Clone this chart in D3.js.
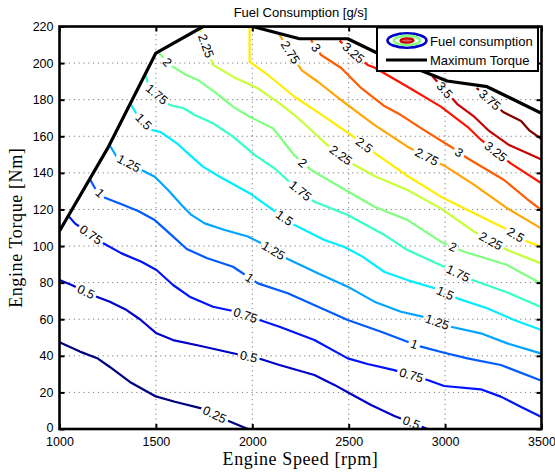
<!DOCTYPE html>
<html><head><meta charset="utf-8">
<script src="https://cdn.jsdelivr.net/npm/d3@7"></script>
<style>
html,body{margin:0;padding:0;background:#fff;}
svg{display:block;}
</style></head>
<body>
<svg id="chart" width="555" height="474"></svg>
<script>
// ---------- data ----------
const titleText = "Fuel Consumption [g/s]";
const xLabelText = "Engine Speed [rpm]";
const yLabelText = "Engine Torque [Nm]";
const legendLabels = ["Fuel consumption", "Maximum Torque"];
const xTicks = [1000, 1500, 2000, 2500, 3000, 3500];
const yTicks = [0, 20, 40, 60, 80, 100, 120, 140, 160, 180, 200, 220];
const levels = [0.25, 0.5, 0.75, 1, 1.25, 1.5, 1.75, 2, 2.25, 2.5, 2.75, 3, 3.25, 3.5, 3.75];

const maxTorqueRpm = [1000, 1250, 1500, 1745, 2000, 2245, 2495, 2650, 3011, 3218, 3500];
const maxTorqueNm  = [108.2, 153.5, 205.5, 220, 220, 213.3, 213.3, 205.4, 190.2, 187.1, 172.6];

const c025_rpm = [1000,1106,1199,1261,1365,1495,1598,1736,1874,1977];
const c025_nm  = [47.4,42.3,38.5,33.9,25.7,18.0,14.9,11.3,4.5,0];
const c025_lab = [1805];

const c050_rpm = [1000,1063,1193,1261,1348,1417,1503,1589,1727,1900,2047,2141,2322,2426,2504,2616,2737,2909];
const c050_nm  = [81.4,78.7,72.3,69.6,65.0,60.0,52.3,48.6,45.5,41.4,38.1,35.0,29.5,24.1,19.5,13.1,7.1,0];
const c050_lab = [1137,1981,2825];

const c075_rpm = [1046,1080,1227,1322,1425,1503,1589,1675,1796,1900,2038,2141,2322,2495,2598,2736,2909,2995,3185,3289,3392,3500];
const c075_nm  = [116.5,112.4,101.5,96.0,91.4,86.9,78.7,72.3,66.8,64.5,59.6,55.9,48.6,38.6,35.5,32.2,26.8,23.5,21.7,17.7,12.2,6.5];
const c075_lab = [1163,1965,2825];

const c100_rpm = [1158,1184,1236,1322,1408,1494,1581,1660,1763,1900,2029,2184,2495,2668,2805,2875,2995,3116,3289,3500];
const c100_nm  = [136.5,131.6,126.4,122.8,119.2,114.2,106.0,98.4,93.5,88.7,79.6,74.2,59.6,53.2,47.7,45.0,41.7,38.6,35.0,26.4];
const c100_lab = [1210,1986,2840];

const c125_rpm = [1258,1296,1425,1494,1563,1633,1684,1753,1857,1977,2047,2184,2340,2495,2633,2771,2883,3030,3185,3323,3500];
const c125_nm  = [155.5,148.8,141.6,137.9,130.6,122.4,117.0,112.4,108.8,105.2,101.5,92.9,85.1,77.8,69.6,64.1,61.4,55.9,52.3,46.8,41.2];
const c125_lab = [1360,2110,2959];

const c150_rpm = [1370,1400,1479,1525,1613,1675,1744,1831,1986,2115,2219,2374,2478,2566,2686,2804,2946,3063,3218,3358,3500];
const c150_nm  = [177.5,172.2,163.4,162.3,155.8,149.8,143.4,137.9,128.9,119.2,111.5,103.3,99.5,94.6,85.8,81.4,76.9,71.4,66.0,59.6,54.1];
const c150_lab = [1437,2167,3000];

const c175_rpm = [1445,1468,1572,1644,1701,1796,1900,2012,2115,2193,2322,2495,2686,2805,2995,3142,3323,3500];
const c175_nm  = [193.5,186.2,177.1,175.3,171.6,167.1,159.8,149.8,142.5,135.0,124.2,117.0,106.0,97.8,88.7,81.4,74.6,66.6];
const c175_lab = [1505,2250,3068];

const c200_rpm = [1511,1572,1658,1718,1814,1900,1986,2107,2219,2305,2461,2633,2805,2978,3099,3323,3500];
const c200_nm  = [206.2,199.0,193.5,190.8,183.5,176.2,170.7,164.4,149.5,141.6,132.0,121.5,114.2,102.4,96.9,89.6,79.4];
const c200_lab = [1559,2262,3040];

const c225_rpm = [1727,1796,1900,2029,2141,2219,2305,2391,2530,2633,2805,2978,3151,3323,3500];
const c225_nm  = [219.0,199.0,192.6,186.2,178.0,171.6,163.4,155.0,144.3,138.3,130.6,120.6,107.8,97.8,90.4];
const c225_lab = [1760,2460,3237];

const c250_rpm = [1986,1986,2081,2219,2374,2512,2650,2805,2978,3151,3306,3427,3500];
const c250_nm  = [220,200.8,193.5,181.6,170.7,160.7,149.7,138.3,127.0,117.9,109.9,102.4,99.6];
const c250_lab = [2581,3366];

const c275_rpm = [2141,2255,2340,2461,2633,2805,3004,3151,3323,3500];
const c275_nm  = [215.5,196.2,189.8,179.8,166.2,154.3,143.4,133.4,120.6,109.5];
const c275_lab = [2198,2905];

const c300_rpm = [2305,2357,2461,2564,2685,2771,2891,3030,3116,3306,3425,3500];
const c300_nm  = [212.5,204.4,197.3,186.4,176.5,171.6,163.4,154.3,148.0,136.1,125.7,119.7];
const c300_lab = [2331,3073];

const c325_rpm = [2452,2598,2633,2805,2978,3116,3187,3340,3500];
const c325_nm  = [212.3,199.0,197.6,187.1,176.2,165.2,158.0,145.2,134.3];
const c325_lab = [2525,3263];

const c350_rpm = [2933,3063,3151,3228,3332,3500];
const c350_nm  = [193.0,177.6,170.7,162.9,155.2,147.3];
const c350_lab = [2998];

const c375_rpm = [3164,3301,3394,3435,3500];
const c375_nm  = [186.4,173.3,168.3,163.4,158.5];
const c375_lab = [3232];

const contourRpm = [c025_rpm,c050_rpm,c075_rpm,c100_rpm,c125_rpm,c150_rpm,c175_rpm,c200_rpm,c225_rpm,c250_rpm,c275_rpm,c300_rpm,c325_rpm,c350_rpm,c375_rpm];
const contourNm  = [c025_nm,c050_nm,c075_nm,c100_nm,c125_nm,c150_nm,c175_nm,c200_nm,c225_nm,c250_nm,c275_nm,c300_nm,c325_nm,c350_nm,c375_nm];
const contourLab = [c025_lab,c050_lab,c075_lab,c100_lab,c125_lab,c150_lab,c175_lab,c200_lab,c225_lab,c250_lab,c275_lab,c300_lab,c325_lab,c350_lab,c375_lab];

// ---------- layout ----------
const W = 555, H = 474;
const plot = {left: 59.5, right: 541.5, top: 26.5, bottom: 429};
const sansFont = "'Liberation Sans', Arial, Helvetica, sans-serif";
const serifFont = "'Liberation Serif', 'Times New Roman', serif";
const labelSize = 12.5;

const x = d3.scaleLinear().domain([1000, 3500]).range([plot.left, plot.right]);
const y = d3.scaleLinear().domain([0, 220]).range([plot.bottom, plot.top]);

// jet colormap
const tScale = d3.scaleLinear().domain([levels[0], levels[levels.length - 1]]).range([0, 1]);
function jet(v) {
  const t = tScale(v);
  const c = u => Math.max(0, Math.min(1, u));
  const r = c(1.5 - Math.abs(4 * t - 3));
  const g = c(1.5 - Math.abs(4 * t - 2));
  const b = c(1.5 - Math.abs(4 * t - 1));
  return d3.rgb(r * 255, g * 255, b * 255).toString();
}

const svg = d3.select("#chart");
const defs = svg.append("defs");
defs.append("clipPath").attr("id", "plotClip")
  .append("rect").attr("x", plot.left).attr("y", plot.top)
  .attr("width", plot.right - plot.left).attr("height", plot.bottom - plot.top);

// grid
const grid = svg.append("g").attr("stroke", "#333").attr("stroke-width", 1)
  .attr("stroke-dasharray", "1,3.8").attr("opacity", 0.75);
grid.selectAll("line.vx").data(xTicks.slice(1, -1)).join("line")
  .attr("x1", d => x(d)).attr("x2", d => x(d)).attr("y1", plot.bottom).attr("y2", plot.top);
grid.selectAll("line.hy").data(yTicks.slice(1, -1)).join("line")
  .attr("x1", plot.left).attr("x2", plot.right).attr("y1", d => y(d)).attr("y2", d => y(d));

// label geometry
function labelPos(rpmArr, nmArr, r) {
  for (let i = 0; i < rpmArr.length - 1; i++) {
    const a = rpmArr[i], b = rpmArr[i + 1];
    if (a === b) continue;
    if (r >= a && r <= b) {
      const t = (r - a) / (b - a);
      const x0 = x(a), y0 = y(nmArr[i]), x1 = x(b), y1 = y(nmArr[i + 1]);
      let ang = Math.atan2(y1 - y0, x1 - x0) * 180 / Math.PI;
      if (ang > 90) ang -= 180;
      if (ang < -90) ang += 180;
      return {cx: x0 + t * (x1 - x0), cy: y0 + t * (y1 - y0), ang};
    }
  }
  return null;
}
function textWidth(s) {
  let w = 0;
  for (const ch of s) w += (ch === ".") ? 0.278 : 0.556;
  return w * labelSize;
}

const labels = [];
levels.forEach((lv, k) => {
  contourLab[k].forEach(r => {
    const p = labelPos(contourRpm[k], contourNm[k], r);
    if (p) labels.push({level: lv, text: String(lv), ...p});
  });
});

// mask for label gaps
const mask = defs.append("mask").attr("id", "gapMask")
  .attr("maskUnits", "userSpaceOnUse").attr("x", 0).attr("y", 0).attr("width", W).attr("height", H);
mask.append("rect").attr("x", 0).attr("y", 0).attr("width", W).attr("height", H).attr("fill", "#fff");
mask.selectAll("rect.gap").data(labels).join("rect")
  .attr("x", d => -textWidth(d.text) / 2 - 2.5).attr("y", -5.5)
  .attr("width", d => textWidth(d.text) + 5).attr("height", 11)
  .attr("fill", "#000")
  .attr("transform", d => `translate(${d.cx},${d.cy}) rotate(${d.ang})`);

// contour lines
const line = d3.line().x(d => x(d[0])).y(d => y(d[1]));
const cg = svg.append("g").attr("clip-path", "url(#plotClip)")
  .append("g").attr("mask", "url(#gapMask)");
levels.forEach((lv, k) => {
  const pts = contourRpm[k].map((r, i) => [r, contourNm[k][i]]);
  cg.append("path").datum(pts).attr("d", line)
    .attr("fill", "none").attr("stroke", jet(lv)).attr("stroke-width", 2.2)
    .attr("stroke-linejoin", "round").attr("stroke-linecap", "butt");
});

// labels
svg.append("g").selectAll("text").data(labels).join("text")
  .attr("transform", d => `translate(${d.cx},${d.cy}) rotate(${d.ang})`)
  .attr("text-anchor", "middle").attr("dy", "0.35em")
  .attr("font-family", sansFont).attr("font-size", labelSize).attr("fill", "#000")
  .text(d => d.text);

// max torque
const mt = maxTorqueRpm.map((r, i) => [r, maxTorqueNm[i]]);
svg.append("g").attr("clip-path", "url(#plotClip)").append("path").datum(mt).attr("d", line)
  .attr("fill", "none").attr("stroke", "#000").attr("stroke-width", 3.2).attr("stroke-linejoin", "round");

// frame
svg.append("rect").attr("x", plot.left).attr("y", plot.top)
  .attr("width", plot.right - plot.left).attr("height", plot.bottom - plot.top)
  .attr("fill", "none").attr("stroke", "#000").attr("stroke-width", 2.6);

// axes
const axB = svg.append("g").attr("transform", `translate(0,${plot.bottom})`)
  .call(d3.axisBottom(x).tickValues(xTicks).tickSize(-5).tickPadding(8.5).tickFormat(d3.format("d")));
const axL = svg.append("g").attr("transform", `translate(${plot.left},0)`)
  .call(d3.axisLeft(y).tickValues(yTicks).tickSize(-5).tickPadding(6).tickFormat(d3.format("d")));
const axT = svg.append("g").attr("transform", `translate(0,${plot.top})`)
  .call(d3.axisTop(x).tickValues(xTicks).tickSize(-5).tickFormat(""));
const axR = svg.append("g").attr("transform", `translate(${plot.right},0)`)
  .call(d3.axisRight(y).tickValues(yTicks).tickSize(-5).tickFormat(""));
[axB, axL, axT, axR].forEach(a => {
  a.select(".domain").remove();
  a.selectAll(".tick line").attr("stroke", "#000").attr("stroke-width", 2);
  a.selectAll(".tick text").attr("font-family", sansFont).attr("font-size", 12.5).attr("fill", "#000");
});
// lift the "0" label a touch so it clears the "1000" label below it
axL.selectAll(".tick text").filter(d => d === 0).attr("dy", "0.22em");

// title & axis labels
svg.append("text").attr("x", (plot.left + plot.right) / 2).attr("y", 16.5)
  .attr("text-anchor", "middle").attr("font-family", sansFont).attr("font-size", 13)
  .text(titleText);
svg.append("text").attr("x", (plot.left + plot.right) / 2).attr("y", 465)
  .attr("text-anchor", "middle").attr("font-family", serifFont).attr("font-size", 18)
  .attr("letter-spacing", 0.6).text(xLabelText);
svg.append("text").attr("transform", `translate(22,${(plot.top + plot.bottom) / 2}) rotate(-90)`)
  .attr("text-anchor", "middle").attr("font-family", serifFont).attr("font-size", 18)
  .attr("letter-spacing", 0.6).text(yLabelText);

// legend
const lg = svg.append("g");
lg.append("rect").attr("x", 377).attr("y", 27.5).attr("width", 161).attr("height", 43.5)
  .attr("fill", "#fff").attr("stroke", "#000").attr("stroke-width", 2);
const ic = lg.append("g").attr("transform", "translate(407,40.5)");
ic.append("ellipse").attr("rx", 19.5).attr("ry", 7.2).attr("fill", "none").attr("stroke", jet(0.5)).attr("stroke-width", 2.6);
ic.append("ellipse").attr("rx", 13).attr("ry", 4.6).attr("fill", "none").attr("stroke", jet(2.0)).attr("stroke-width", 2.6);
ic.append("ellipse").attr("rx", 6.5).attr("ry", 2.2).attr("fill", "#e06060").attr("stroke", jet(3.5)).attr("stroke-width", 2.2);
lg.append("line").attr("x1", 386).attr("x2", 427).attr("y1", 60).attr("y2", 60)
  .attr("stroke", "#000").attr("stroke-width", 3.2);
lg.selectAll("text").data(legendLabels).join("text")
  .attr("x", 430).attr("y", (d, i) => 45.5 + i * 19)
  .attr("font-family", sansFont).attr("font-size", 13).text(d => d);
</script>
</body></html>
